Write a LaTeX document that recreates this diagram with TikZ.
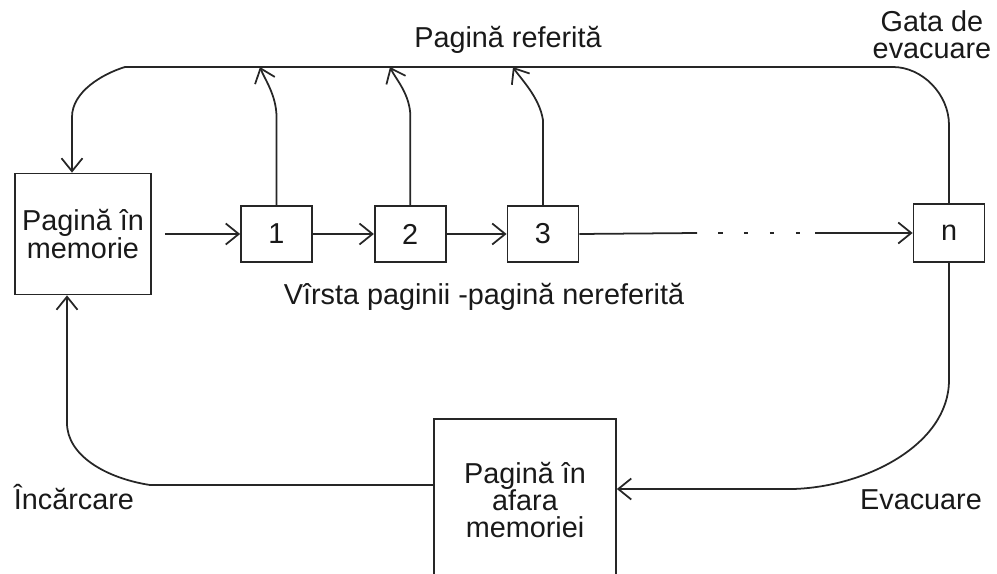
\documentclass[tikz,border=0pt]{standalone}
\usepackage{fontspec}
\setmainfont{Liberation Sans}
\usetikzlibrary{arrows.meta}
\usetikzlibrary{positioning}

\begin{document}
\begin{tikzpicture}[x=0.02cm, y=0.02cm, line width=1pt, draw=black!85,
    every node/.style={font=\fontsize{16.4}{15.6}\selectfont, text=black!90},
    box/.style={draw=black!85, align=center, inner sep=0pt},
    cell/.style={box, minimum width=1.42cm, minimum height=1.12cm},
    arr/.style={-{Straight Barb[length=0.26cm, width=0.42cm]}},
    dotline/.style={dash pattern=on 0.09cm off 0.43cm, dash phase=0.1cm}]
    \useasboundingbox (0, 0) rectangle (997, -574);

    \node [box, minimum width=2.72cm, minimum height=2.42cm] (mem) at (83, -234) {Pagină în\\memorie};
    \node [cell] (b1) at (276.5, -234) {1};
    \node [cell, right=1.22cm of b1] (b2) {2};
    \node [cell, right=1.2cm of b2] (b3) {3};
    \node [cell, minimum height=1.16cm] (bn) at (949, -233) {n};
    \node [box, minimum width=3.64cm, minimum height=3.24cm] (out) at (525, -500) {Pagină în\\afara\\memoriei};

    \node (ref) at (508, -40) {Pagină referită};
    \node [align=center, inner sep=1pt, font=\fontsize{16.4}{15.4}\selectfont] (gata) at (932, -35) {Gata de\\evacuare};
    \node (virsta) at (484, -297) {Vîrsta paginii -pagină nereferită};
    \node [anchor=west, inner sep=0pt] (incarcare) at (13, -497) {Încărcare};
    \node (evac) at (921, -500) {Evacuare};

    \coordinate (r1) at (260, -67);
    \coordinate (r2) at (390, -67);
    \coordinate (r3) at (513, -67);
    \coordinate (dl) at (697, -233);
    \coordinate (dr) at (815, -233);

    \draw [arr] ([xshift=0.26cm]mem.east) -- (b1.west);
    \draw [arr] (b1) -- (b2);
    \draw [arr] (b2) -- (b3);
    \draw (b3.east) -- (dl);
    \draw [dotline] (dl) -- (dr);
    \draw [arr] (dr) -- (bn.west);

    \draw [arr] (bn.north) -- (bn.north |- 0, -125) .. controls (949, -94) and (922, -67) .. (893, -67) -- (125, -67) .. controls (102, -74) and (72, -92) .. (72, -117) -- (mem.north -| 72, 0);
    \draw [arr] (b1.north) -- (b1.north |- 0, -117) .. controls (276.5, -95) and (264, -78) .. (r1);
    \draw [arr] (b2.north) -- (b2.north |- 0, -113) .. controls (408.5, -92) and (395, -78) .. (r2);
    \draw [arr] (b3.north) -- (b3.north |- 0, -120) .. controls (539.5, -97) and (520, -78) .. (r3);

    \draw [arr] (bn.south) -- (bn.south |- 0, -380) .. controls (949, -445) and (865, -487) .. (793, -489) -- (out.east |- 0, -489);
    \draw [arr] (out.west |- 0, -485) -- (150, -485) .. controls (105, -478) and (67, -455) .. (67, -423) -- (mem.south -| 67, 0);
\end{tikzpicture}
\end{document}
